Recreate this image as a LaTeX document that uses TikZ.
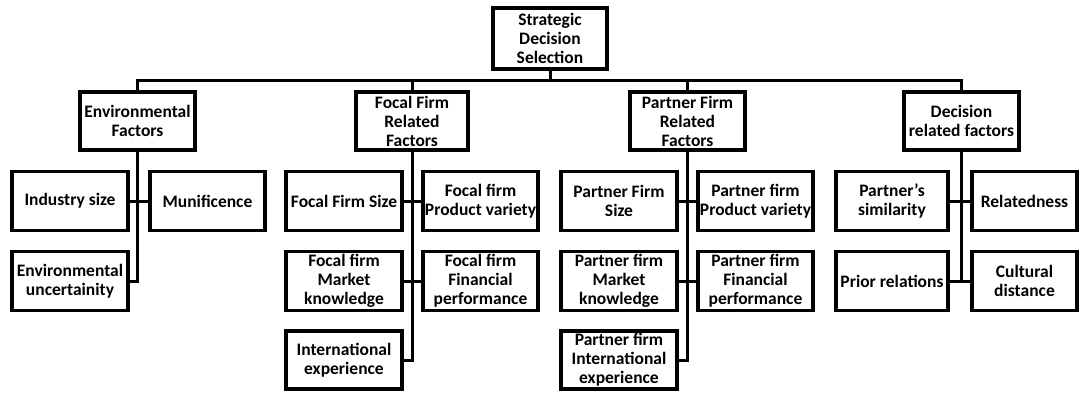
\documentclass[tikz,border=0pt]{standalone}
\usepackage{fontspec}
\setmainfont{Carlito}
\newcommand{\nw}[1]{\makebox[0pt][c]{#1}}
\begin{document}
\begin{tikzpicture}[x=1pt,y=-1pt,
  box/.style={draw=black, line width=3.5pt, rectangle, inner sep=0pt, align=center,
    font=\fontsize{17.5}{19}\selectfont\bfseries, fill=white},
  top/.style={box, minimum width=114pt, minimum height=61pt},
  lone/.style={box, minimum width=115pt, minimum height=58pt},
  leaf/.style={box, minimum width=115pt, minimum height=59pt},
  conn/.style={draw=black, line width=3pt}
]
\useasboundingbox (0,0) rectangle (1080,392);
\fill[white] (0,0) rectangle (1080,392);
\coordinate (bus) at (550,80);
\node[top] (top) at (550,38.5) {Strategic\\Decision\\Selection};
\node[lone] (env) at (137.5,121) {\nw{Environmental}\\Factors};
\node[lone, minimum width=112pt] (foc) at (412,121) {Focal Firm\\Related\\Factors};
\node[lone] (par) at (687.5,121) {Partner Firm\\Related\\Factors};
\node[lone] (dec) at (961.5,121) {Decision\\\nw{related factors}};
% environmental
\node[leaf, minimum width=116pt] (ind) at (70,201) {Industry size};
\node[leaf] (mun) at (207.5,201) {Munificence};
\node[leaf, minimum width=116pt] (envu) at (70,281) {\nw{Environmental}\\uncertainity};
% focal
\node[leaf, minimum width=116pt] (fsize) at (344,201) {\nw{Focal Firm Size}};
\node[leaf] (fprod) at (480.5,201) {Focal firm\\\nw{Product variety}};
\node[leaf, minimum width=116pt] (fmark) at (344,281) {Focal firm\\Market\\knowledge};
\node[leaf] (ffin) at (480.5,281) {Focal firm\\Financial\\\nw{performance}};
\node[leaf, minimum width=116pt, minimum height=58pt] (fint) at (344,360) {International\\experience};
% partner
\node[leaf, minimum width=116pt] (psize) at (619,201) {Partner Firm\\Size};
\node[leaf] (pprod) at (755.5,201) {Partner firm\\\nw{Product variety}};
\node[leaf, minimum width=116pt] (pmark) at (619,281) {Partner firm\\Market\\knowledge};
\node[leaf] (pfin) at (755.5,281) {Partner firm\\Financial\\\nw{performance}};
\node[leaf, minimum width=116pt, minimum height=58pt] (pint) at (619,360) {Partner firm\\\nw{International}\\experience};
% decision
\node[leaf, minimum width=112pt] (psim) at (892,201) {Partner’s\\similarity};
\node[leaf, minimum width=105pt] (rel) at (1024.5,201) {Relatedness};
\node[leaf, minimum width=112pt] (prior) at (892,281) {\nw{Prior relations}};
\node[leaf, minimum width=105pt] (cult) at (1024.5,281) {Cultural\\distance};
% tree connectors
\draw[conn] (top.south) -- (bus);
\draw[conn] (env.north) -- (env.north |- bus) -- (dec.north |- bus) -- (dec.north);
\draw[conn] (foc.north) -- (foc.north |- bus);
\draw[conn] (par.north) -- (par.north |- bus);
% env group
\draw[conn] (env.south) -- (env.south |- envu.east) -- (envu.east);
\draw[conn] (ind.east) -- (mun.west);
% focal group
\draw[conn] (foc.south) -- (foc.south |- fint.east) -- (fint.east);
\draw[conn] (fsize.east) -- (fprod.west);
\draw[conn] (fmark.east) -- (ffin.west);
% partner group
\draw[conn] (par.south) -- (par.south |- pint.east) -- (pint.east);
\draw[conn] (psize.east) -- (pprod.west);
\draw[conn] (pmark.east) -- (pfin.west);
% decision group
\draw[conn] (dec.south) -- (dec.south |- prior.east) -- (prior.east);
\draw[conn] (psim.east) -- (rel.west);
\draw[conn] (prior.east) -- (cult.west);
\end{tikzpicture}
\end{document}
